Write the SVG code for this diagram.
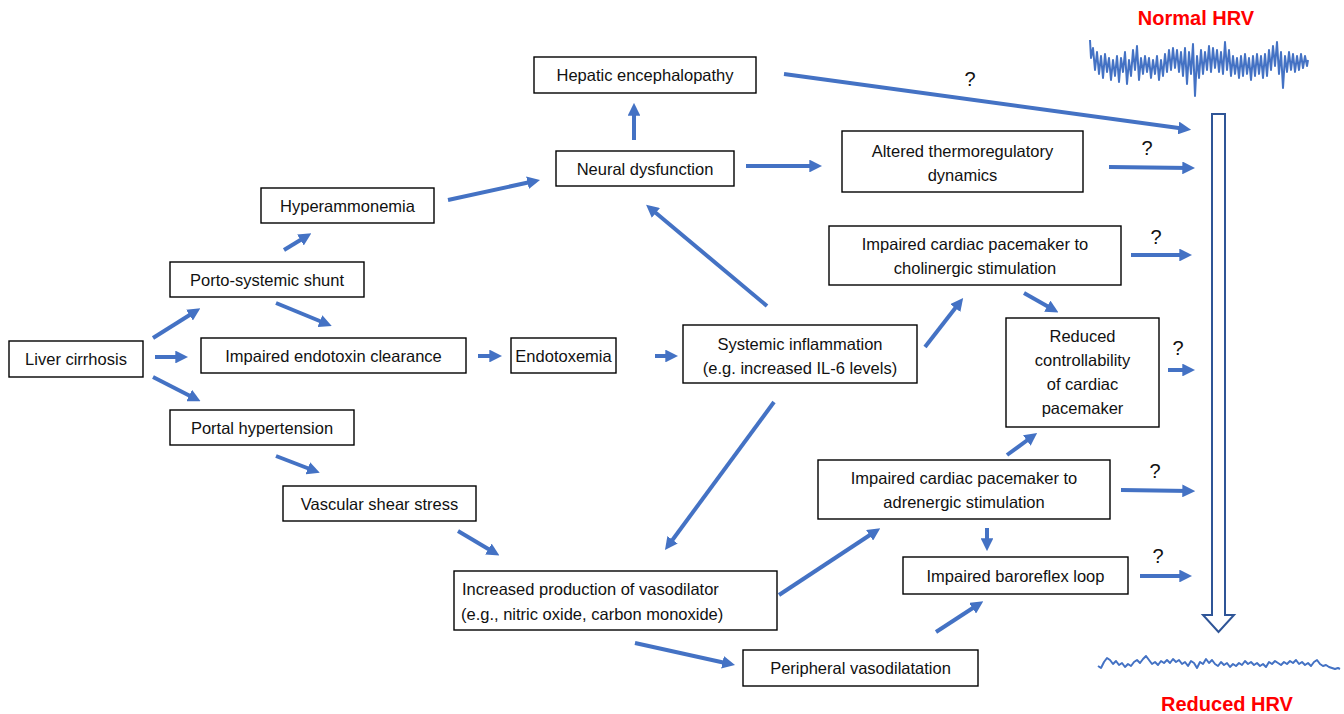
<svg xmlns="http://www.w3.org/2000/svg" width="1344" height="714" viewBox="0 0 1344 714">
<style>
.box{fill:#fff;stroke:#000;stroke-width:1.4}
.t{font-family:"Liberation Sans",Arial,sans-serif;font-size:16.5px;fill:#111;text-anchor:middle}
.tl{text-anchor:start}
.q{font-family:"Liberation Sans",Arial,sans-serif;font-size:20px;fill:#111;text-anchor:middle}
.red{font-family:"Liberation Sans",Arial,sans-serif;font-size:20px;font-weight:bold;fill:#FF0000;text-anchor:middle}
.c line{stroke:#4472C4;stroke-width:4;marker-end:url(#ah)}
.sig{fill:none;stroke:#4472C4;stroke-width:2;stroke-linejoin:round}
</style>
<defs>
<marker id="ah" viewBox="0 0 10 10" refX="6" refY="5" markerWidth="3.2" markerHeight="3.2" orient="auto" markerUnits="strokeWidth">
<path d="M0,0 L10,5 L0,10 z" fill="#4472C4"/>
</marker>
</defs>
<rect width="1344" height="714" fill="#fff"/>

<g id="connectors" class="c">
<line x1="153" y1="338" x2="196" y2="311"/>
<line x1="155" y1="357" x2="183" y2="357"/>
<line x1="153" y1="377" x2="196" y2="399"/>
<line x1="276" y1="303" x2="327" y2="324"/>
<line x1="284" y1="250" x2="307" y2="236"/>
<line x1="448" y1="200" x2="535" y2="181"/>
<line x1="276" y1="456" x2="315" y2="471"/>
<line x1="478" y1="356" x2="497" y2="356"/>
<line x1="655" y1="356" x2="673" y2="356"/>
<line x1="767" y1="306" x2="650" y2="208"/>
<line x1="634" y1="140" x2="634" y2="108"/>
<line x1="746" y1="166" x2="817" y2="166"/>
<line x1="784" y1="74" x2="1186" y2="129"/>
<line x1="1109" y1="167" x2="1190" y2="168"/>
<line x1="925" y1="347" x2="960" y2="302"/>
<line x1="1131" y1="255" x2="1187" y2="255"/>
<line x1="1024" y1="293" x2="1054" y2="310"/>
<line x1="1168" y1="370" x2="1190" y2="370"/>
<line x1="1007" y1="455" x2="1033" y2="436"/>
<line x1="1121" y1="490" x2="1190" y2="491"/>
<line x1="987" y1="528" x2="987" y2="546"/>
<line x1="1140" y1="576" x2="1187" y2="576"/>
<line x1="774" y1="402" x2="668" y2="546"/>
<line x1="458" y1="531" x2="495" y2="553"/>
<line x1="779" y1="595" x2="876" y2="531"/>
<line x1="635" y1="643" x2="730" y2="664"/>
<line x1="936" y1="632" x2="979" y2="604"/>
</g>

<g id="questions">
<text class="q" x="970" y="86">?</text>
<text class="q" x="1147" y="155">?</text>
<text class="q" x="1156" y="244">?</text>
<text class="q" x="1178" y="355">?</text>
<text class="q" x="1155" y="478">?</text>
<text class="q" x="1158" y="563">?</text>
</g>

<g id="n-liver"><rect class="box" x="9" y="341" width="134" height="36"/><text class="t" x="76" y="365">Liver cirrhosis</text></g>
<g id="n-porto"><rect class="box" x="170" y="262" width="194" height="35"/><text class="t" x="267" y="286">Porto-systemic shunt</text></g>
<g id="n-endoclear"><rect class="box" x="201" y="338" width="265" height="35"/><text class="t" x="333.5" y="362">Impaired endotoxin clearance</text></g>
<g id="n-portal"><rect class="box" x="170" y="410" width="184" height="35"/><text class="t" x="262" y="434">Portal hypertension</text></g>
<g id="n-hyper"><rect class="box" x="261" y="188" width="173" height="35"/><text class="t" x="347.5" y="212">Hyperammonemia</text></g>
<g id="n-endotox"><rect class="box" x="511" y="338" width="105" height="35"/><text class="t" x="563.5" y="362">Endotoxemia</text></g>
<g id="n-shear"><rect class="box" x="283" y="486" width="193" height="35"/><text class="t" x="379.5" y="510">Vascular shear stress</text></g>
<g id="n-hepatic"><rect class="box" x="534" y="57" width="222" height="36"/><text class="t" x="645" y="81">Hepatic encephalopathy</text></g>
<g id="n-neural"><rect class="box" x="556" y="151" width="178" height="35"/><text class="t" x="645" y="175">Neural dysfunction</text></g>
<g id="n-thermo"><rect class="box" x="842" y="131" width="241" height="61"/><text class="t" x="962.5" y="157">Altered thermoregulatory</text><text class="t" x="962.5" y="181">dynamics</text></g>
<g id="n-inflam"><rect class="box" x="683" y="325" width="234" height="58"/><text class="t" x="800" y="350">Systemic inflammation</text><text class="t" x="800" y="374">(e.g. increased IL-6 levels)</text></g>
<g id="n-cholin"><rect class="box" x="829" y="226" width="292" height="59"/><text class="t" x="975" y="250">Impaired cardiac pacemaker to</text><text class="t" x="975" y="274">cholinergic stimulation</text></g>
<g id="n-control"><rect class="box" x="1006" y="318" width="153" height="109"/><text class="t" x="1082.5" y="342">Reduced</text><text class="t" x="1082.5" y="366">controllability</text><text class="t" x="1082.5" y="390">of cardiac</text><text class="t" x="1082.5" y="414">pacemaker</text></g>
<g id="n-adren"><rect class="box" x="818" y="460" width="292" height="59"/><text class="t" x="964" y="484">Impaired cardiac pacemaker to</text><text class="t" x="964" y="508">adrenergic stimulation</text></g>
<g id="n-baro"><rect class="box" x="903" y="557" width="225" height="37"/><text class="t" x="1015.5" y="582">Impaired baroreflex loop</text></g>
<g id="n-vasodil"><rect class="box" x="454" y="571" width="323" height="59"/><text class="t tl" x="462" y="595">Increased production of vasodilator</text><text class="t tl" x="461" y="620">(e.g., nitric oxide, carbon monoxide)</text></g>
<g id="n-periph"><rect class="box" x="743" y="650" width="235" height="36"/><text class="t" x="860.5" y="674">Peripheral vasodilatation</text></g>

<g id="hrv">
<path d="M1212,114 L1225,114 L1225,615 L1234,615 L1218.5,632 L1203,615 L1212,615 Z" fill="#fff" stroke="#2F5597" stroke-width="2" stroke-linejoin="miter"/>
<text class="red" x="1196" y="25">Normal HRV</text>
<text class="red" x="1227" y="711">Reduced HRV</text>
<polyline class="sig" points="1090,40 1091,58 1093,48 1095,70 1097,52 1099,74 1101,56 1103,78 1105,54 1107,72 1109,58 1111,80 1113,60 1115,76 1117,56 1119,82 1121,58 1123,72 1125,52 1127,84 1129,60 1131,76 1133,50 1135,70 1137,46 1139,80 1141,58 1143,74 1145,56 1147,72 1149,58 1151,78 1153,60 1155,74 1157,56 1159,80 1161,60 1163,76 1165,54 1167,72 1169,50 1171,70 1173,48 1175,68 1177,50 1179,72 1181,52 1183,76 1185,48 1187,84 1189,52 1191,74 1193,44 1195,96 1197,56 1199,78 1201,50 1203,74 1205,52 1207,70 1209,46 1211,72 1213,48 1215,68 1217,50 1219,72 1221,52 1223,74 1225,42 1227,70 1229,50 1231,76 1233,56 1235,74 1237,58 1239,78 1241,56 1243,76 1245,54 1247,74 1249,58 1251,80 1253,56 1255,76 1257,54 1259,74 1261,56 1263,78 1265,54 1267,76 1269,50 1271,70 1273,46 1275,66 1277,42 1279,74 1281,52 1283,88 1285,56 1287,72 1289,52 1291,70 1293,54 1295,72 1297,56 1299,70 1301,54 1303,68 1305,56 1307,66 1308,60"/>
<polyline class="sig" points="1098,666 1101,668 1104,662 1107,658 1110,660 1113,664 1116,661 1119,665 1122,663 1125,667 1128,664 1131,666 1134,662 1137,660 1140,663 1143,659 1146,656 1149,660 1152,664 1155,662 1158,665 1161,661 1164,663 1167,660 1170,663 1173,659 1176,662 1179,660 1182,664 1185,662 1188,666 1191,661 1194,663 1197,668 1200,662 1203,664 1206,659 1209,663 1212,660 1215,664 1218,666 1221,662 1224,665 1227,663 1230,667 1233,664 1236,666 1239,663 1242,665 1245,661 1248,664 1251,662 1254,665 1257,663 1260,666 1263,664 1266,667 1269,662 1272,664 1275,661 1278,663 1281,665 1284,662 1287,664 1290,661 1293,663 1296,660 1299,664 1302,662 1305,665 1308,663 1311,666 1314,662 1317,660 1320,664 1323,666 1326,665 1329,667 1332,668 1335,669 1338,668 1340,669"/>
</g>
</svg>
